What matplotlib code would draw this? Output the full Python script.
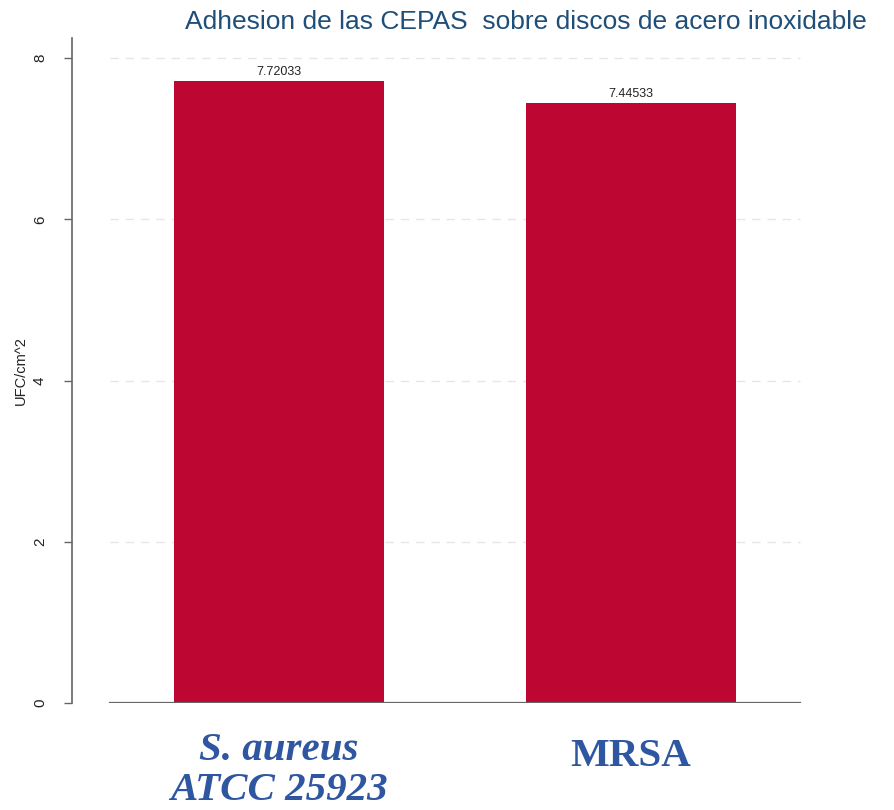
import matplotlib
matplotlib.use("Agg")
import matplotlib.pyplot as plt

categories = ["S. aureus\nATCC 25923", "MRSA"]
values = [7.72033, 7.44533]
value_labels = ["7.72033", "7.44533"]
yticks = [0, 2, 4, 6, 8]
title = "Adhesion de las CEPAS  sobre discos de acero inoxidable"
ylabel = "UFC/cm^2"

W, H = 894, 810
fig = plt.figure(figsize=(W / 100, H / 100), dpi=100)
fig.patch.set_facecolor("white")

ax_l, ax_r, ax_t, ax_b = 72, 838, 38, 703
ax = fig.add_axes([ax_l / W, 1 - ax_b / H, (ax_r - ax_l) / W, (ax_b - ax_t) / H])

xpos = [0, 1]
ax.bar(xpos, values, width=0.597, color="#be0632", zorder=3)
ax.set_xlim(-0.589, 1.590)
ax.set_ylim(0, 8.25)

# grid lines
for yt in yticks[1:]:
    ax.axhline(yt, xmin=0.0496, xmax=0.950, color="#e6e6e6", lw=1.0,
               ls=(0, (6, 5)), zorder=1)
ax.axhline(0, xmin=0.0496, xmax=0.950, color="#666666", lw=1.6, zorder=4)

for x, v, lab in zip(xpos, values, value_labels):
    ax.text(x, v + 0.03, lab, ha="center", va="bottom", fontsize=9,
            color="#222222", family="Liberation Sans")

for s in ["top", "right", "bottom"]:
    ax.spines[s].set_visible(False)
ax.spines["left"].set_color("#666666")
ax.spines["left"].set_linewidth(1.2)

ax.set_yticks(yticks)
ax.set_yticklabels([str(t) for t in yticks], rotation=90, va="center",
                   fontsize=11, family="Liberation Sans", color="#222222")
ax.tick_params(axis="y", length=6, width=1, color="#666666", pad=12)
ax.set_xticks([])
ax.set_ylabel(ylabel, fontsize=10.5, family="Liberation Sans", color="#222222", labelpad=4)

blue = "#2f56a0"
ax.text(0, -0.36, categories[0], ha="center", va="top", fontsize=29.5,
        family="Liberation Serif", style="italic", weight="bold", color=blue,
        linespacing=1.12)
ax.text(1, -0.44, categories[1], ha="center", va="top", fontsize=29.5,
        family="Liberation Serif", weight="bold", color=blue)

fig.text(526 / W, 1 - 10 / H, title, ha="center", va="top", fontsize=19,
         family="Liberation Sans", color="#1f4e79")

fig.savefig("out.png", dpi=100, facecolor="white")
